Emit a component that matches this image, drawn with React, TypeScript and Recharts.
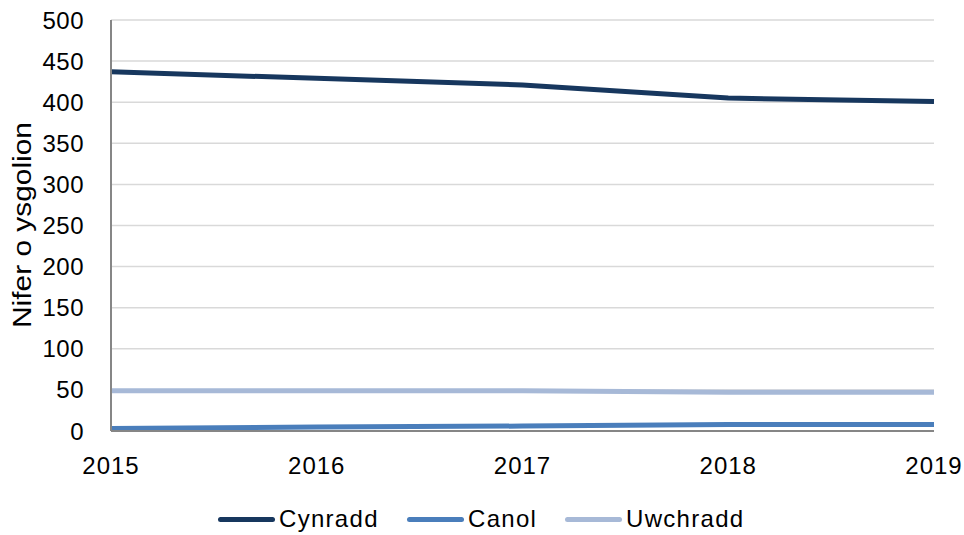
import React from 'react';
import { LineChart, Line, XAxis, YAxis, CartesianGrid, Legend } from 'recharts';

const years = ['2015', '2016', '2017', '2018', '2019'];
const cynradd = [437, 429, 421, 405, 401];
const canol = [3, 5, 6, 8, 8];
const uwchradd = [49, 49, 49, 47, 47];
const yTicks = [0, 50, 100, 150, 200, 250, 300, 350, 400, 450, 500];

const seriesNames = ['Cynradd', 'Canol', 'Uwchradd'];
const seriesColors = ['#17375e', '#4a7ebb', '#a7b9d7'];

const data = years.map((y, i) => ({
  year: y,
  Cynradd: cynradd[i],
  Canol: canol[i],
  Uwchradd: uwchradd[i],
}));

const FONT = '"Liberation Sans", Arial, sans-serif';

const XTick = (props: any) => {
  const { x, y, payload } = props;
  return (
    <text x={x} y={y + 43} textAnchor="middle" fontFamily={FONT} fontSize={24} letterSpacing={1} fill="#000">
      {payload.value}
    </text>
  );
};

const YTick = (props: any) => {
  const { x, y, payload } = props;
  return (
    <text x={x - 27} y={y + 8.5} textAnchor="end" fontFamily={FONT} fontSize={24} letterSpacing={0.5} fill="#000">
      {payload.value}
    </text>
  );
};

const YLabel = () => (
  <text
    x={31}
    y={225}
    transform="rotate(-90, 31, 225)"
    textAnchor="middle"
    fontFamily={FONT}
    fontSize={25}
    textLength={206}
    lengthAdjust="spacingAndGlyphs"
    fill="#000"
  >
    Nifer o ysgolion
  </text>
);

const LegendContent = () => (
  <div style={{ position: 'relative', height: 44, width: 964 }}>
    {[218, 407, 565].map((left, i) => (
      <div key={i} style={{ position: 'absolute', left, top: 14, display: 'flex', alignItems: 'center', height: 28 }}>
        <div style={{ width: 57, height: 5, borderRadius: 3, background: seriesColors[i] }} />
        <span style={{ marginLeft: 4, fontFamily: FONT, fontSize: 24, letterSpacing: 1.3, color: '#000', lineHeight: '28px' }}>
          {seriesNames[i]}
        </span>
      </div>
    ))}
  </div>
);

export default function App() {
  return (
    <div style={{ position: 'absolute', left: 0, top: 0, background: '#fff' }}>
      <LineChart width={964} height={535} data={data} margin={{ top: 20, right: 30, left: 0, bottom: 0 }}>
        <CartesianGrid vertical={false} stroke="#d9d9d9" strokeWidth={1.5} />
        <XAxis
          dataKey="year"
          height={60}
          tickLine={false}
          tickSize={0}
          tickMargin={0}
          axisLine={{ stroke: '#868686', strokeWidth: 2 }}
          tick={<XTick />}
          interval={0}
        />
        <YAxis
          width={111}
          domain={[0, 500]}
          ticks={yTicks}
          tickLine={false}
          tickSize={0}
          tickMargin={0}
          axisLine={{ stroke: '#868686', strokeWidth: 2 }}
          tick={<YTick />}
          interval={0}
          label={{ content: () => <YLabel /> }}
        />
        <Legend verticalAlign="bottom" height={44} content={() => <LegendContent />} wrapperStyle={{ left: 0, width: 964 }} />
        {seriesNames.map((name, i) => (
          <Line
            key={name}
            type="linear"
            dataKey={name}
            stroke={seriesColors[i]}
            strokeWidth={5}
            dot={false}
            activeDot={false}
            isAnimationActive={false}
          />
        ))}
      </LineChart>
    </div>
  );
}
